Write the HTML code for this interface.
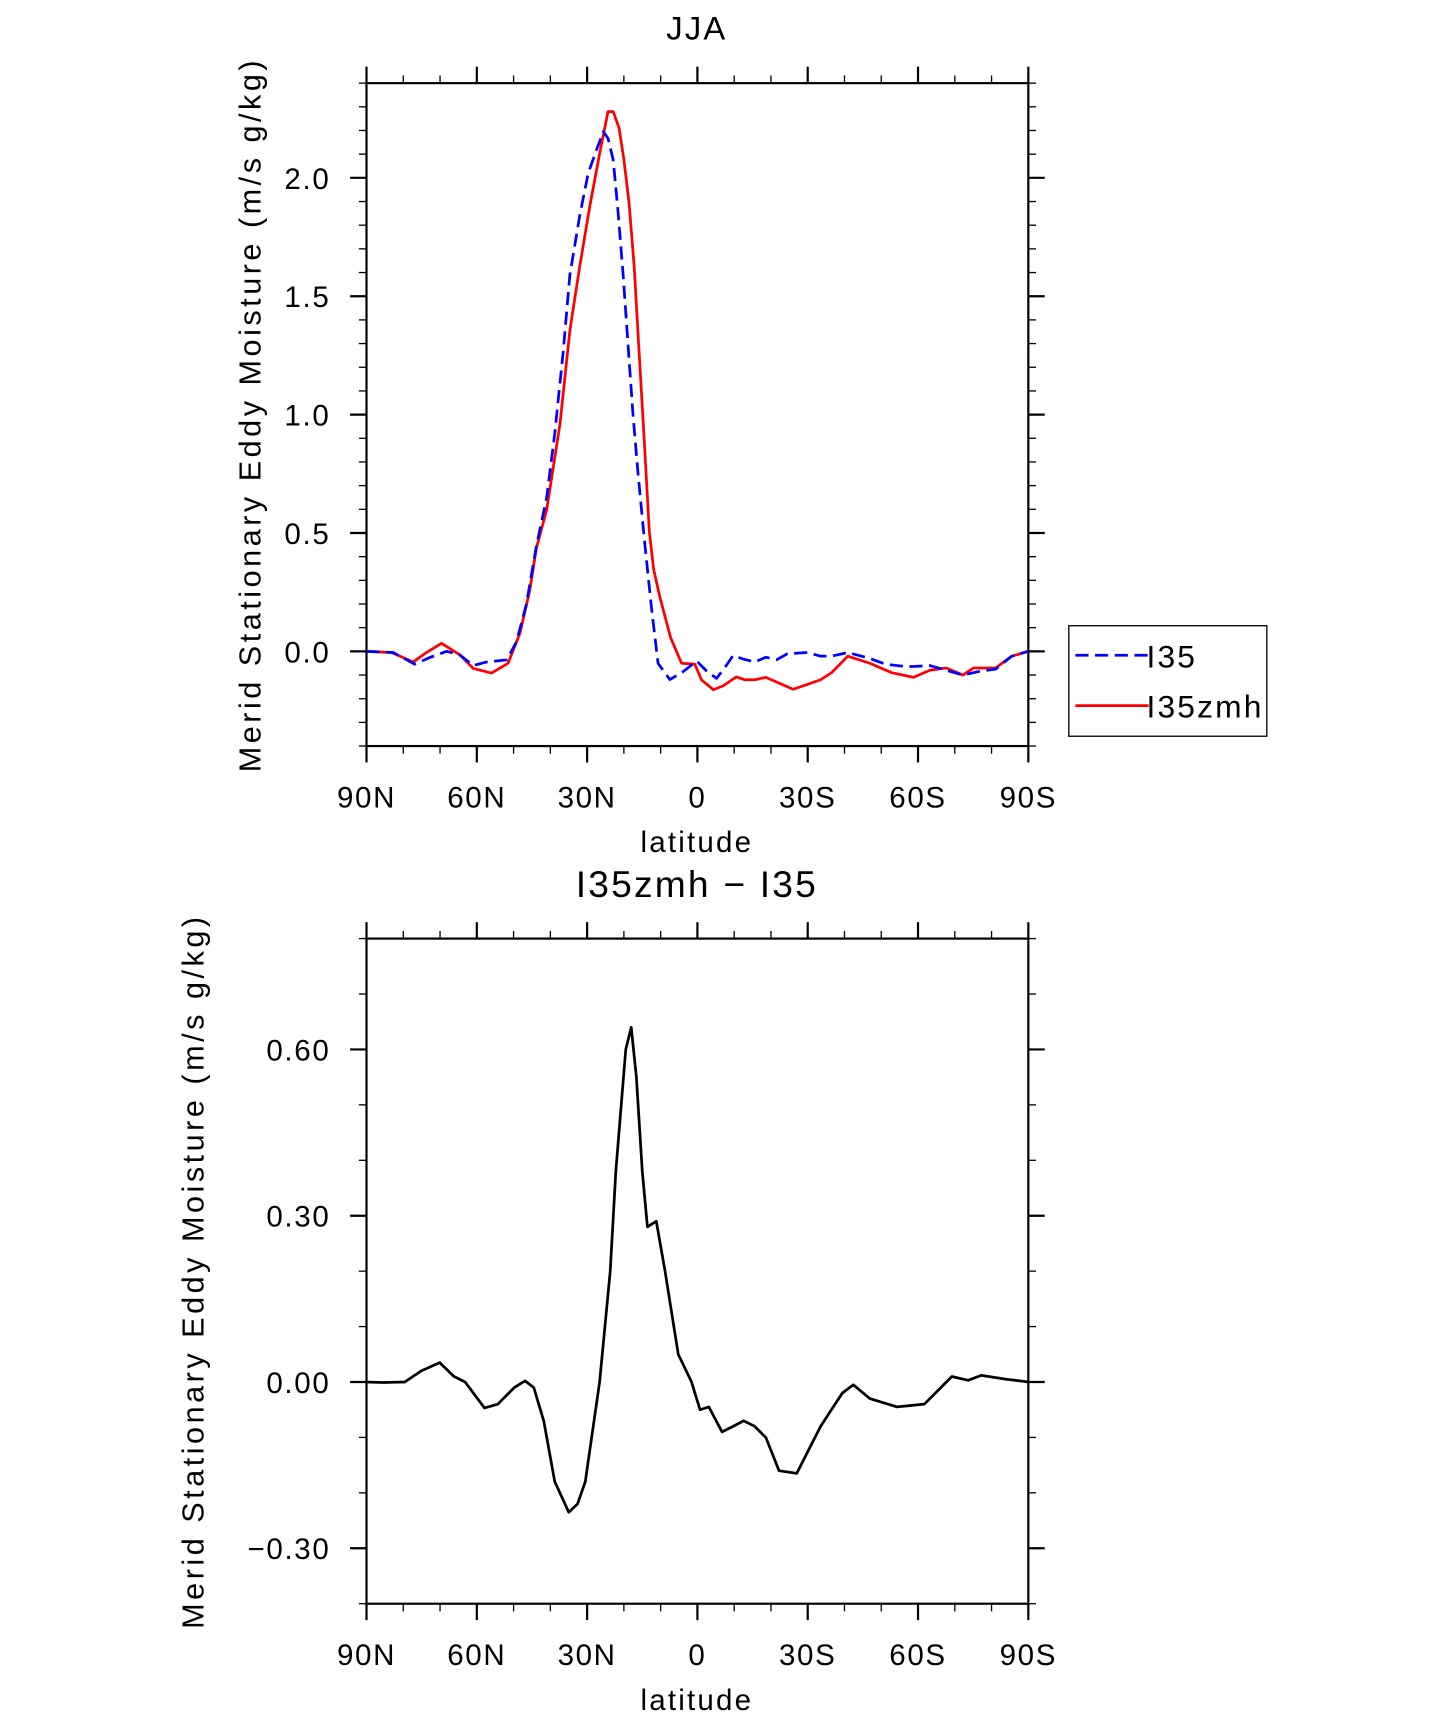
<!DOCTYPE html>
<html><head><meta charset="utf-8"><style>
html,body{margin:0;padding:0;background:#fff}
svg{display:block}
text{font-family:"Liberation Sans",sans-serif;fill:#000}
</style></head><body>
<svg id="chart" width="1455" height="1719" viewBox="0 0 1330 1571.4" xmlns="http://www.w3.org/2000/svg">
<text x="637" y="36" font-size="30" letter-spacing="2" text-anchor="middle">JJA</text>
<text x="637" y="820" font-size="34" letter-spacing="2" text-anchor="middle">I35zmh − I35</text>
<g id="topPanel"></g>
<g id="botPanel"></g>
<g>
<rect x="977" y="572" width="181" height="101" fill="#fff" stroke="#000" stroke-width="1.2"/>
<line x1="983" y1="599" x2="1050" y2="599" stroke="#0000ff" stroke-width="2.5" stroke-dasharray="12,6"/>
<text x="1048" y="610" font-size="29" letter-spacing="2">I35</text>
<line x1="983" y1="645" x2="1050" y2="645" stroke="#ff0000" stroke-width="2.5"/>
<text x="1048" y="656" font-size="29" letter-spacing="2">I35zmh</text>
</g>
</svg>
<script>
const latI35=[90,82.7,76.9,72.3,68.2,64.6,61,57.4,51.9,49.2,46.5,43.8,41,38.8,36.5,34.7,32,29.7,27.4,25.6,24.3,22.9,21.6,20.2,18.8,17.5,16.1,14.3,12.5,10.7,7.5,3.9,0.2,-2.5,-5.2,-7.5,-9.7,-12.4,-15.6,-18.6,-21.6,-24.5,-29.9,-33.5,-36.5,-40.9,-46.9,-51.3,-57.3,-63.2,-67.7,-72.2,-76.6,-81.1,-85.5,-90];
const valI35=[0,-0.005,-0.054,-0.023,0,-0.015,-0.06,-0.045,-0.036,0.04,0.2,0.445,0.65,0.92,1.265,1.59,1.84,2.02,2.12,2.196,2.166,2.076,1.86,1.59,1.28,0.995,0.742,0.454,0.184,-0.05,-0.119,-0.086,-0.041,-0.083,-0.114,-0.068,-0.018,-0.032,-0.045,-0.025,-0.035,-0.01,-0.005,-0.02,-0.02,-0.005,-0.03,-0.055,-0.065,-0.06,-0.08,-0.1,-0.085,-0.075,-0.02,0];
const latZmh=[90,83.2,77.3,73.7,69.6,64.6,61,56,51.5,48.3,45.6,43.8,41,37.4,34.7,32,29.3,26.5,24.3,22.9,21.3,20,18.6,17.2,15.8,14.3,13.1,11.9,10.2,7.3,4.3,0.7,-1.1,-4.3,-7,-10.6,-12.9,-15.6,-18.6,-21.6,-26,-29.9,-33.5,-36.5,-40.9,-46.9,-52.8,-58.8,-63.2,-67.7,-72.2,-75.1,-81.1,-85.5,-90];
const valZmh=[0,-0.005,-0.045,-0.005,0.034,-0.015,-0.072,-0.092,-0.05,0.076,0.256,0.436,0.598,0.958,1.355,1.625,1.877,2.11,2.28,2.28,2.21,2.076,1.895,1.625,1.247,0.85,0.508,0.346,0.229,0.058,-0.05,-0.054,-0.12,-0.162,-0.146,-0.108,-0.12,-0.12,-0.11,-0.13,-0.16,-0.14,-0.12,-0.09,-0.02,-0.05,-0.09,-0.11,-0.08,-0.07,-0.1,-0.07,-0.07,-0.02,0];
const latDiff=[90,85.5,79.6,75.1,70.1,66.2,63.2,57.9,54.3,49.8,46.9,44.5,41.8,38.8,35,32.6,30.5,26.6,23.7,22.2,19.5,18,16.6,15,13.6,11.2,8.8,5.2,1.6,-0.7,-3.1,-6.7,-9.7,-12.6,-15.6,-18.6,-22.2,-27,-33.5,-39.4,-42.4,-46.9,-54.3,-61.7,-64.7,-69.2,-73.6,-77.2,-84,-90];
const valDiff=[0,-0.001,0,0.02,0.035,0.01,0,-0.047,-0.04,-0.01,0.002,-0.01,-0.07,-0.18,-0.235,-0.22,-0.18,0,0.2,0.38,0.6,0.64,0.55,0.38,0.28,0.29,0.2,0.05,0,-0.05,-0.045,-0.09,-0.08,-0.07,-0.08,-0.1,-0.16,-0.165,-0.08,-0.02,-0.005,-0.03,-0.045,-0.04,-0.02,0.01,0.003,0.012,0.005,0];
const xTickLats=[90,60,30,0,-30,-60,-90];
const xTickLabels=["90N","60N","30N","0","30S","60S","90S"];
const topYTicks=[0,0.5,1.0,1.5,2.0];
const topYLabels=["0.0","0.5","1.0","1.5","2.0"];
const botYTicks=[-0.3,0,0.3,0.6];
const botYLabels=["\u22120.30","0.00","0.30","0.60"];

const NS="http://www.w3.org/2000/svg";
function mk(parent,tag,attrs){const e=document.createElementNS(NS,tag);for(const k in attrs)e.setAttribute(k,attrs[k]);parent.appendChild(e);return e;}

function panel(g,y0,y1,ymin,ymax,yTicks,yLabels,minorStep,labelX,ylabelX){
  const x0=335,x1=940;
  const X=lat=>x0+(90-lat)/180*(x1-x0);
  const Y=v=>y1-(v-ymin)/(ymax-ymin)*(y1-y0);
  const r=mk(g,'rect',{x:x0,y:y0,width:x1-x0,height:y1-y0,fill:'none',stroke:'#000','stroke-width':2});
  
  
  for(let lat=90;lat>=-90;lat-=10){
    const major=lat%30===0;const L=major?15:7;const x=X(lat);
    const t1=mk(g,'line',{x1:x,x2:x,y1:y1,y2:y1+L,stroke:'#000','stroke-width':major?2:1.2});
    
    
    const t2=mk(g,'line',{x1:x,x2:x,y1:y0,y2:y0-L,stroke:'#000','stroke-width':major?2:1.2});
    
    
  }
  xTickLats.forEach((lat,i)=>{
    const t=mk(g,'text',{x:X(lat),y:y1+56,'font-size':27,'letter-spacing':1.5,'text-anchor':'middle'});
    t.textContent=xTickLabels[i];
    
    
  });
  const xl=mk(g,'text',{x:637,y:y1+97,'font-size':27,'letter-spacing':2,'text-anchor':'middle'});
  xl.textContent='latitude';
  
  
  const n=Math.round((ymax-ymin)/minorStep);
  for(let i=0;i<=n;i++){
    const v=ymin+i*minorStep;const y=Y(v);
    const isMaj=yTicks.some(t=>Math.abs(t-v)<1e-6);const L=isMaj?15:7;
    const a=mk(g,'line',{x1:x0,x2:x0-L,y1:y,y2:y,stroke:'#000','stroke-width':isMaj?2:1.2});
    
    
    const b=mk(g,'line',{x1:x1,x2:x1+L,y1:y,y2:y,stroke:'#000','stroke-width':isMaj?2:1.2});
    
    
  }
  yTicks.forEach((v,i)=>{
    const t=mk(g,'text',{x:labelX,y:Y(v)+10,'font-size':27,'letter-spacing':1.5,'text-anchor':'end'});
    t.textContent=yLabels[i];
    
    
  });
  const cy=(y0+y1)/2;
  const yl=mk(g,'text',{x:ylabelX,y:cy,'font-size':28,'letter-spacing':3.2,'text-anchor':'middle',transform:`rotate(-90 ${ylabelX} ${cy})`});
  yl.textContent='Merid Stationary Eddy Moisture (m/s g/kg)';
  
  
  return {X,Y};
}
function drawLine(g,lats,vals,ax,color,dash,name){
  const d=lats.map((l,i)=>(i?'L':'M')+ax.X(l).toFixed(1)+','+ax.Y(vals[i]).toFixed(1)).join('');
  const p=mk(g,'path',{d:d,fill:'none',stroke:color,'stroke-width':2.5,'stroke-linejoin':'round'});
  if(dash)p.setAttribute('stroke-dasharray',dash);
  
  
}
const topG=document.getElementById('topPanel');
const a1=panel(topG,76,682,-0.4,2.4,topYTicks,topYLabels,0.1,302,238);
drawLine(topG,latZmh,valZmh,a1,'#ff0000',null,'line-i35zmh');
drawLine(topG,latI35,valI35,a1,'#0000ff','12,6','line-i35');
const botG=document.getElementById('botPanel');
const a2=panel(botG,858,1466,-0.4,0.8,botYTicks,botYLabels,0.1,302,186);
drawLine(botG,latDiff,valDiff,a2,'#000','','line-difference');
</script>
</body></html>
